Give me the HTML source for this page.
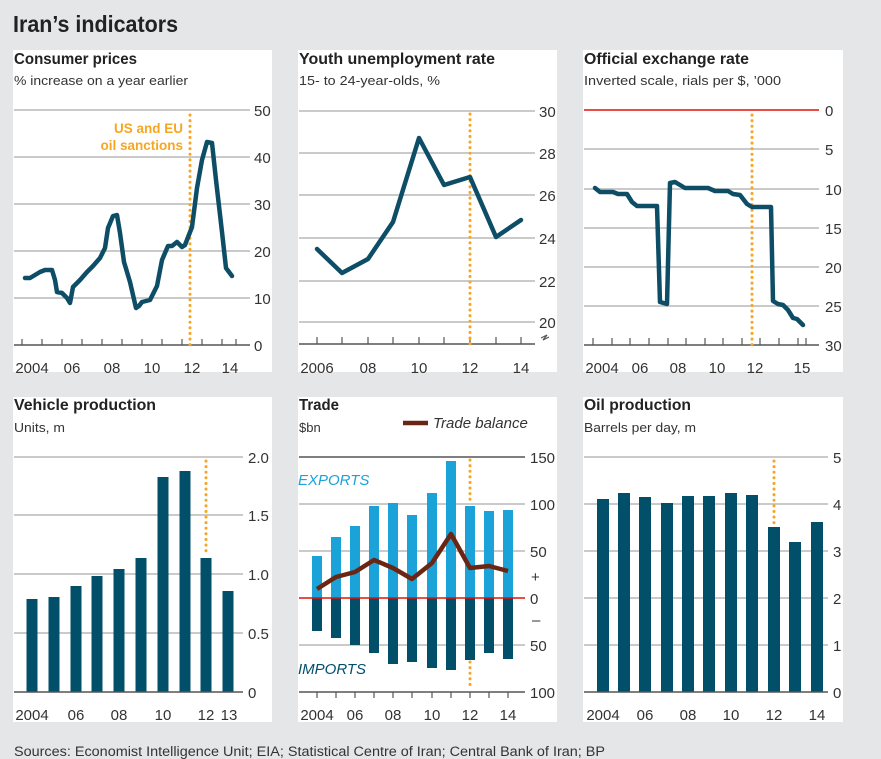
<!DOCTYPE html>
<html><head><meta charset="utf-8"><style>
html,body{margin:0;padding:0;background:#e5e6e7;}
svg{display:block;font-family:"Liberation Sans",sans-serif;}
.t{font-size:16px;font-weight:bold;fill:#222;}
.s{font-size:13px;fill:#333;}
.n{font-size:15px;fill:#333;}
.g{stroke:#b9b9b9;stroke-width:1.5;}
.ax{stroke:#555;stroke-width:1.5;}
.tk{stroke:#555;stroke-width:1.2;}
.sn{stroke:#f6a623;stroke-width:3;stroke-dasharray:0.1 5.5;stroke-linecap:round;}
.ln{fill:none;stroke:#0d4d66;stroke-width:4.5;stroke-linejoin:round;stroke-linecap:round;}
.db{fill:#024f6a;}
</style></head><body>
<svg width="881" height="759" viewBox="0 0 881 759">
<rect width="881" height="759" fill="#e5e6e7"/>
<text x="13" y="32" font-size="23" font-weight="bold" fill="#222" textLength="165" lengthAdjust="spacingAndGlyphs">Iran’s indicators</text>
<!-- panels -->
<rect x="13" y="50" width="259" height="322" fill="#fff"/>
<rect x="298" y="50" width="259" height="322" fill="#fff"/>
<rect x="583" y="50" width="260" height="322" fill="#fff"/>
<rect x="13" y="397" width="259" height="325" fill="#fff"/>
<rect x="298" y="397" width="259" height="325" fill="#fff"/>
<rect x="583" y="397" width="260" height="325" fill="#fff"/>

<!-- Panel 1 CPI -->
<text class="t" x="14" y="64" textLength="123" lengthAdjust="spacingAndGlyphs">Consumer prices</text>
<text class="s" x="14" y="85" textLength="174" lengthAdjust="spacingAndGlyphs">% increase on a year earlier</text>
<g class="g"><line x1="14" y1="110" x2="250" y2="110"/><line x1="14" y1="157" x2="250" y2="157"/><line x1="14" y1="204" x2="250" y2="204"/><line x1="14" y1="251" x2="250" y2="251"/><line x1="14" y1="298" x2="250" y2="298"/></g>
<line class="ax" x1="14" y1="345" x2="250" y2="345"/>
<g class="tk"><line x1="22" y1="339" x2="22" y2="345"/><line x1="42" y1="339" x2="42" y2="345"/><line x1="62" y1="339" x2="62" y2="345"/><line x1="82" y1="339" x2="82" y2="345"/><line x1="102" y1="339" x2="102" y2="345"/><line x1="122" y1="339" x2="122" y2="345"/><line x1="142" y1="339" x2="142" y2="345"/><line x1="162" y1="339" x2="162" y2="345"/><line x1="182" y1="339" x2="182" y2="345"/><line x1="202" y1="339" x2="202" y2="345"/><line x1="222" y1="339" x2="222" y2="345"/><line x1="236" y1="339" x2="236" y2="345"/></g>
<g class="n"><text x="254" y="116">50</text><text x="254" y="163">40</text><text x="254" y="210">30</text><text x="254" y="257">20</text><text x="254" y="304">10</text><text x="254" y="351">0</text></g>
<g class="n" text-anchor="middle"><text x="32" y="373">2004</text><text x="72" y="373">06</text><text x="112" y="373">08</text><text x="152" y="373">10</text><text x="192" y="373">12</text><text x="230" y="373">14</text></g>
<line class="sn" x1="190" y1="115" x2="190" y2="345"/>
<g font-size="13.5" font-weight="bold" fill="#f6a623" text-anchor="end"><text x="183" y="133">US and EU</text><text x="183" y="150">oil sanctions</text></g>
<polyline class="ln" points="25,278 30,278 40,272 45,270 52,270 55,280 57,292 62,293 67,298 70,303 73,287 80,280 87,272 93,266 100,258 105,248 108,228 113,216 117,215 120,233 124,262 130,282 136,308 139,306 142,302 150,300 157,286 162,260 168,246 172,246 177,242 182,247 185,245 192,227 197,188 202,160 207,142 212,143 216,180 222,232 226,268 232,276"/>

<!-- Panel 2 Youth -->
<text class="t" x="299" y="64" textLength="196" lengthAdjust="spacingAndGlyphs">Youth unemployment rate</text>
<text class="s" x="299" y="85" textLength="141" lengthAdjust="spacingAndGlyphs">15- to 24-year-olds, %</text>
<g class="g"><line x1="299" y1="111" x2="535" y2="111"/><line x1="299" y1="153" x2="535" y2="153"/><line x1="299" y1="195" x2="535" y2="195"/><line x1="299" y1="238" x2="535" y2="238"/><line x1="299" y1="281" x2="535" y2="281"/><line x1="299" y1="322" x2="535" y2="322"/></g>
<line class="ax" x1="299" y1="344" x2="535" y2="344"/>
<g class="tk"><line x1="317" y1="337" x2="317" y2="344"/><line x1="342" y1="337" x2="342" y2="344"/><line x1="368" y1="337" x2="368" y2="344"/><line x1="393" y1="337" x2="393" y2="344"/><line x1="419" y1="337" x2="419" y2="344"/><line x1="444" y1="337" x2="444" y2="344"/><line x1="470" y1="337" x2="470" y2="344"/><line x1="496" y1="337" x2="496" y2="344"/><line x1="521" y1="337" x2="521" y2="344"/></g>
<g class="n"><text x="539" y="117">30</text><text x="539" y="159">28</text><text x="539" y="201">26</text><text x="539" y="244">24</text><text x="539" y="287">22</text><text x="539" y="328">20</text></g>
<path d="M541 338 l6 -3 l-4 5 l6 -3" stroke="#555" fill="none" stroke-width="1.2"/>
<g class="n" text-anchor="middle"><text x="317" y="373">2006</text><text x="368" y="373">08</text><text x="419" y="373">10</text><text x="470" y="373">12</text><text x="521" y="373">14</text></g>
<line class="sn" x1="470" y1="114" x2="470" y2="344"/>
<polyline class="ln" points="317,249 342,273 368,259 393,222 419,138 444,185 470,177 496,237 521,220"/>

<!-- Panel 3 Exchange -->
<text class="t" x="584" y="64" textLength="165" lengthAdjust="spacingAndGlyphs">Official exchange rate</text>
<text class="s" x="584" y="85" textLength="197" lengthAdjust="spacingAndGlyphs">Inverted scale, rials per $, ’000</text>
<g class="g"><line x1="584" y1="149" x2="819" y2="149"/><line x1="584" y1="189" x2="819" y2="189"/><line x1="584" y1="228" x2="819" y2="228"/><line x1="584" y1="267" x2="819" y2="267"/><line x1="584" y1="306" x2="819" y2="306"/></g>
<line x1="584" y1="110" x2="819" y2="110" stroke="#e3120b" stroke-width="1.5"/>
<line class="ax" x1="584" y1="345" x2="819" y2="345"/>
<g class="tk"><line x1="593" y1="338" x2="593" y2="345"/><line x1="612" y1="338" x2="612" y2="345"/><line x1="630" y1="338" x2="630" y2="345"/><line x1="649" y1="338" x2="649" y2="345"/><line x1="668" y1="338" x2="668" y2="345"/><line x1="686" y1="338" x2="686" y2="345"/><line x1="705" y1="338" x2="705" y2="345"/><line x1="723" y1="338" x2="723" y2="345"/><line x1="742" y1="338" x2="742" y2="345"/><line x1="760" y1="338" x2="760" y2="345"/><line x1="779" y1="338" x2="779" y2="345"/><line x1="798" y1="338" x2="798" y2="345"/><line x1="806" y1="338" x2="806" y2="345"/></g>
<g class="n"><text x="825" y="116">0</text><text x="825" y="155">5</text><text x="825" y="195">10</text><text x="825" y="234">15</text><text x="825" y="273">20</text><text x="825" y="312">25</text><text x="825" y="351">30</text></g>
<g class="n" text-anchor="middle"><text x="602" y="373">2004</text><text x="640" y="373">06</text><text x="678" y="373">08</text><text x="717" y="373">10</text><text x="755" y="373">12</text><text x="802" y="373">15</text></g>
<line class="sn" x1="752" y1="115" x2="752" y2="345"/>
<polyline class="ln" points="595,188 600,192 613,192 618,194 627,194 632,202 637,206 657,206 660,302 667,304 670,183 675,182 685,188 708,188 715,191 728,191 733,194 740,195 747,204 752,207 771,207 773,301 778,304 783,305 788,310 793,318 797,319 803,325"/>

<!-- Panel 4 Vehicles -->
<text class="t" x="14" y="410" textLength="142" lengthAdjust="spacingAndGlyphs">Vehicle production</text>
<text class="s" x="14" y="432" textLength="51" lengthAdjust="spacingAndGlyphs">Units, m</text>
<g class="g"><line x1="14" y1="457" x2="243" y2="457"/><line x1="14" y1="515" x2="243" y2="515"/><line x1="14" y1="574" x2="243" y2="574"/><line x1="14" y1="633" x2="243" y2="633"/></g>
<g class="db"><rect x="26.5" y="599" width="11" height="93"/><rect x="48.5" y="597" width="11" height="95"/><rect x="70.5" y="586" width="11" height="106"/><rect x="91.5" y="576" width="11" height="116"/><rect x="113.5" y="569" width="11" height="123"/><rect x="135.5" y="558" width="11" height="134"/><rect x="157.5" y="477" width="11" height="215"/><rect x="179.5" y="471" width="11" height="221"/><rect x="200.5" y="558" width="11" height="134"/><rect x="222.5" y="591" width="11" height="101"/></g>
<line class="sn" x1="206" y1="461" x2="206" y2="556"/>
<line class="ax" x1="14" y1="692" x2="243" y2="692"/>
<g class="n"><text x="248" y="463">2.0</text><text x="248" y="521">1.5</text><text x="248" y="580">1.0</text><text x="248" y="639">0.5</text><text x="248" y="698">0</text></g>
<g class="n" text-anchor="middle"><text x="32" y="720">2004</text><text x="76" y="720">06</text><text x="119" y="720">08</text><text x="163" y="720">10</text><text x="206" y="720">12</text><text x="229" y="720">13</text></g>

<!-- Panel 5 Trade -->
<text class="t" x="299" y="410" textLength="40" lengthAdjust="spacingAndGlyphs">Trade</text>
<text class="s" x="299" y="432">$bn</text>
<line x1="403" y1="423" x2="428" y2="423" stroke="#6b2613" stroke-width="4.5"/>
<text x="433" y="428" font-size="15" font-style="italic" fill="#333">Trade balance</text>
<g class="g"><line x1="299" y1="504" x2="525" y2="504"/><line x1="299" y1="551" x2="525" y2="551"/><line x1="299" y1="645" x2="525" y2="645"/></g>
<line class="ax" x1="299" y1="457" x2="525" y2="457"/>
<g fill="#1ba2d9"><rect x="312" y="556" width="10" height="42"/><rect x="331" y="537" width="10" height="61"/><rect x="350" y="526" width="10" height="72"/><rect x="369" y="506" width="10" height="92"/><rect x="388" y="503" width="10" height="95"/><rect x="407" y="515" width="10" height="83"/><rect x="427" y="493" width="10" height="105"/><rect x="446" y="461" width="10" height="137"/><rect x="465" y="506" width="10" height="92"/><rect x="484" y="511" width="10" height="87"/><rect x="503" y="510" width="10" height="88"/></g>
<g class="db"><rect x="312" y="598" width="10" height="33"/><rect x="331" y="598" width="10" height="40"/><rect x="350" y="598" width="10" height="47"/><rect x="369" y="598" width="10" height="55"/><rect x="388" y="598" width="10" height="66"/><rect x="407" y="598" width="10" height="64"/><rect x="427" y="598" width="10" height="70"/><rect x="446" y="598" width="10" height="72"/><rect x="465" y="598" width="10" height="62"/><rect x="484" y="598" width="10" height="55"/><rect x="503" y="598" width="10" height="61"/></g>
<line x1="299" y1="598" x2="525" y2="598" stroke="#e3120b" stroke-width="1.5"/>
<line class="sn" x1="470" y1="460" x2="470" y2="504"/>
<line class="sn" x1="470" y1="662" x2="470" y2="690"/>
<polyline points="317,589 336,577 355,572 374,560 393,568 412,579 432,563 451,534 470,568 489,566 508,571" fill="none" stroke="#6b2613" stroke-width="4.5" stroke-linejoin="round"/>
<line class="ax" x1="299" y1="692" x2="525" y2="692"/>
<g class="tk"><line x1="317" y1="692" x2="317" y2="698"/><line x1="336" y1="692" x2="336" y2="698"/><line x1="355" y1="692" x2="355" y2="698"/><line x1="374" y1="692" x2="374" y2="698"/><line x1="393" y1="692" x2="393" y2="698"/><line x1="412" y1="692" x2="412" y2="698"/><line x1="432" y1="692" x2="432" y2="698"/><line x1="451" y1="692" x2="451" y2="698"/><line x1="470" y1="692" x2="470" y2="698"/><line x1="489" y1="692" x2="489" y2="698"/><line x1="508" y1="692" x2="508" y2="698"/></g>
<text x="298" y="485" font-size="15" font-style="italic" fill="#1ba2d9">EXPORTS</text>
<text x="298" y="674" font-size="15" font-style="italic" fill="#024f6a">IMPORTS</text>
<g class="n"><text x="530" y="463">150</text><text x="530" y="510">100</text><text x="530" y="557">50</text><text x="531" y="582">+</text><text x="530" y="604">0</text><text x="532" y="625">–</text><text x="530" y="651">50</text><text x="530" y="698">100</text></g>
<g class="n" text-anchor="middle"><text x="317" y="720">2004</text><text x="355" y="720">06</text><text x="393" y="720">08</text><text x="432" y="720">10</text><text x="470" y="720">12</text><text x="508" y="720">14</text></g>

<!-- Panel 6 Oil -->
<text class="t" x="584" y="410" textLength="107" lengthAdjust="spacingAndGlyphs">Oil production</text>
<text class="s" x="584" y="432" textLength="112" lengthAdjust="spacingAndGlyphs">Barrels per day, m</text>
<g class="g"><line x1="584" y1="457" x2="828" y2="457"/><line x1="584" y1="504" x2="828" y2="504"/><line x1="584" y1="551" x2="828" y2="551"/><line x1="584" y1="598" x2="828" y2="598"/><line x1="584" y1="645" x2="828" y2="645"/></g>
<g class="db"><rect x="597" y="499" width="12" height="193"/><rect x="618" y="493" width="12" height="199"/><rect x="639" y="497" width="12" height="195"/><rect x="661" y="503" width="12" height="189"/><rect x="682" y="496" width="12" height="196"/><rect x="703" y="496" width="12" height="196"/><rect x="725" y="493" width="12" height="199"/><rect x="746" y="495" width="12" height="197"/><rect x="768" y="527" width="12" height="165"/><rect x="789" y="542" width="12" height="150"/><rect x="811" y="522" width="12" height="170"/></g>
<line class="sn" x1="774" y1="461" x2="774" y2="524"/>
<line class="ax" x1="584" y1="692" x2="828" y2="692"/>
<g class="n"><text x="833" y="463">5</text><text x="833" y="510">4</text><text x="833" y="557">3</text><text x="833" y="604">2</text><text x="833" y="651">1</text><text x="833" y="698">0</text></g>
<g class="n" text-anchor="middle"><text x="603" y="720">2004</text><text x="645" y="720">06</text><text x="688" y="720">08</text><text x="731" y="720">10</text><text x="774" y="720">12</text><text x="817" y="720">14</text></g>

<text x="14" y="756" font-size="13.5" fill="#333" textLength="591" lengthAdjust="spacingAndGlyphs">Sources: Economist Intelligence Unit; EIA; Statistical Centre of Iran; Central Bank of Iran; BP</text>
</svg>
</body></html>
